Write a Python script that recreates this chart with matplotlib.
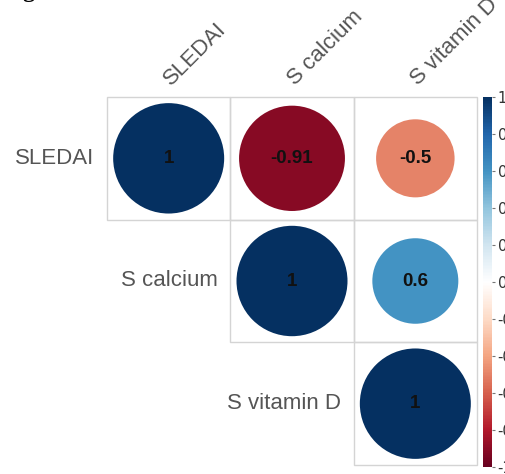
import numpy as np
import matplotlib.pyplot as plt
from matplotlib.colors import LinearSegmentedColormap, Normalize
from matplotlib.patches import Circle, Rectangle
from matplotlib.colorbar import ColorbarBase

# variables and their correlation matrix
variables = ['SLEDAI', 'S calcium', 'S vitamin D']
corr = [
    [1.00, -0.91, -0.50],
    [-0.91, 1.00, 0.60],
    [-0.50, 0.60, 1.00],
]
corr_labels = [
    ['1', '-0.91', '-0.5'],
    ['-0.91', '1', '0.6'],
    ['-0.5', '0.6', '1'],
]
cbar_ticks = [1, 0.8, 0.6, 0.4, 0.2, 0, -0.2, -0.4, -0.6, -0.8, -1]
cbar_ticklabels = ['1', '0.8', '0.6', '0.4', '0.2', '0', '-0.2', '-0.4', '-0.6', '-0.8', '-1']

# RdBu palette (corrplot style)
rdbu = ['#67001F', '#B2182B', '#D6604D', '#F4A582', '#FDDBC7', '#FFFFFF',
        '#D1E5F0', '#92C5DE', '#4393C3', '#2166AC', '#053061']
cmap = LinearSegmentedColormap.from_list('corr_rdbu', rdbu)
norm = Normalize(-1, 1)

W, H = 506, 474
fig = plt.figure(figsize=(W / 100, H / 100), dpi=100)

# grid region in pixels
gx0, gx1 = 107, 477
gy0, gy1 = 97, 465
ax = fig.add_axes([gx0 / W, 1 - gy1 / H, (gx1 - gx0) / W, (gy1 - gy0) / H])
n = len(variables)
ax.set_xlim(0, n)
ax.set_ylim(n, 0)
ax.axis('off')

label_font = 'Liberation Sans'
grey = '#555555'

for i in range(n):
    for j in range(i, n):
        ax.add_patch(Rectangle((j, i), 1, 1, fill=False, edgecolor='#d4d4d4',
                               linewidth=1.0, clip_on=False))
        r = corr[i][j]
        rad = 0.9 * np.sqrt(abs(r)) / 2
        ax.add_patch(Circle((j + 0.5, i + 0.5), rad, facecolor=cmap(norm(r)),
                            edgecolor='none'))
        ax.text(j + 0.5, i + 0.5, corr_labels[i][j], ha='center', va='center',
                fontsize=13.5, fontweight='bold', color='#111111', family=label_font)

# row labels on the left of the diagonal cells
for i, name in enumerate(variables):
    ax.text(i - 0.1, i + 0.5, name, ha='right', va='center', fontsize=16,
            color=grey, family=label_font)

# rotated column labels above the grid
for j, name in enumerate(variables):
    ax.text(j + 0.55, -0.06, name, ha='left', va='bottom', rotation=45,
            rotation_mode='anchor', fontsize=16, color=grey, family=label_font,
            clip_on=False)

# colour legend
cax = fig.add_axes([483 / W, 1 - 467 / H, 9 / W, 370 / H])
cb = ColorbarBase(cax, cmap=cmap, norm=norm, orientation='vertical')
cb.outline.set_visible(False)
cb.set_ticks(cbar_ticks)
cb.set_ticklabels(cbar_ticklabels)
cax.tick_params(length=2, width=0.8, color='#777777', labelsize=10.5,
                labelcolor='#333333', pad=2)

# figure caption, mostly cut off by the top edge
fig.text(0.004, 1 + 2.5 / H, 'Figure 2.', ha='left', va='baseline', fontsize=17,
         fontweight='bold', family='Liberation Serif', color='black')

fig.savefig('out.png', dpi=100)
